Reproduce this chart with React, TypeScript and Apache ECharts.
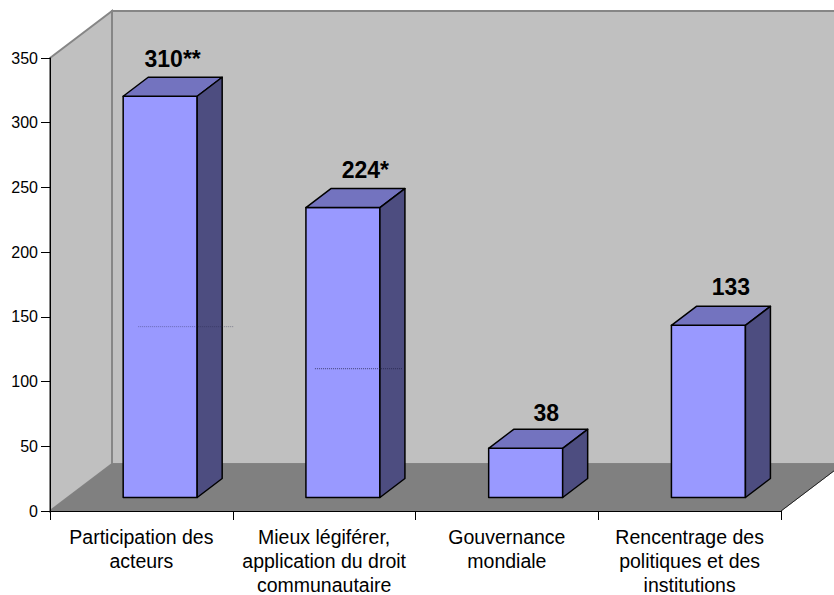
import React, { useEffect, useRef } from "react";
import * as echarts from "echarts";

// Chart values
const categories = [
  "Participation des\nacteurs",
  "Mieux légiférer,\napplication du droit\ncommunautaire",
  "Gouvernance\nmondiale",
  "Rencentrage des\npolitiques et des\ninstitutions",
];
const counts = [310, 224, 38, 133];
const countLabels = ["310**", "224*", "38", "133"];
const ruleValues = [132, 99.5];
const yTicks = { min: 0, max: 350, step: 50 };

// 3D box geometry, in pixels
const FONT = '"Liberation Sans", Arial, sans-serif';
const ROOM_DX = 62;
const ROOM_DY = 47;
const BOX_DX = 25;
const BOX_DY = 19;
const PLANE_DX = 18.8;
const PLANE_DY = 13.5;
const BOX_WIDTH_RATIO = 74 / 182.75;
// Small per-label offsets above each box
const labelNudgeX = [0, 10, 8, 10];
const labelNudgeY = [0, -1, 2, -1];

const renderRoom = (params: any) => {
  const { x, y, width, height } = params.coordSys;
  const left = x;
  const right = x + width;
  const top = y;
  const bottom = y + height;
  const wall = { fill: "#c0c0c0", stroke: "#868686", lineWidth: 2 };
  return {
    type: "group",
    children: [
      {
        type: "polygon",
        shape: {
          points: [
            [left + ROOM_DX, top - ROOM_DY],
            [right + ROOM_DX, top - ROOM_DY],
            [right + ROOM_DX, bottom - ROOM_DY],
            [left + ROOM_DX, bottom - ROOM_DY],
          ],
        },
        style: wall,
      },
      {
        type: "polygon",
        shape: {
          points: [
            [left, top],
            [left + ROOM_DX, top - ROOM_DY],
            [left + ROOM_DX, bottom - ROOM_DY],
            [left, bottom],
          ],
        },
        style: wall,
      },
      {
        type: "polygon",
        shape: {
          points: [
            [left, bottom],
            [right, bottom],
            [right + ROOM_DX, bottom - ROOM_DY],
            [left + ROOM_DX, bottom - ROOM_DY],
          ],
        },
        style: { fill: "#808080", stroke: "#808080", lineWidth: 1 },
      },
      {
        type: "line",
        shape: { x1: right, y1: bottom, x2: right + ROOM_DX, y2: bottom - ROOM_DY },
        style: { stroke: "#222", lineWidth: 1 },
      },
    ],
  };
};

const renderBox = (params: any, api: any) => {
  const idx = api.value(0);
  const val = api.value(1);
  const boxW = api.size([1, 0])[0] * BOX_WIDTH_RATIO;
  const [cx, y0] = api.coord([idx, 0]);
  const yV = api.coord([idx, val])[1];
  const l = cx + PLANE_DX - boxW / 2;
  const r = l + boxW;
  const b = y0 - PLANE_DY;
  const t = yV - PLANE_DY;
  const edge = { stroke: "#000", lineWidth: 1.5, lineJoin: "round" };
  return {
    type: "group",
    children: [
      {
        type: "polygon",
        shape: { points: [[l, b], [r, b], [r, t], [l, t]] },
        style: { fill: "#9999ff", ...edge },
      },
      {
        type: "polygon",
        shape: {
          points: [[l, t], [r, t], [r + BOX_DX, t - BOX_DY], [l + BOX_DX, t - BOX_DY]],
        },
        style: { fill: "#7373bf", ...edge },
      },
      {
        type: "polygon",
        shape: {
          points: [[r, b], [r + BOX_DX, b - BOX_DY], [r + BOX_DX, t - BOX_DY], [r, t]],
        },
        style: { fill: "#4d4d80", ...edge },
      },
      {
        type: "text",
        style: {
          text: countLabels[params.dataIndex],
          x: (l + r) / 2 + BOX_DX / 2 + labelNudgeX[params.dataIndex],
          y: t - BOX_DY - 18 + labelNudgeY[params.dataIndex],
          align: "center",
          verticalAlign: "middle",
          font: `bold 23px ${FONT}`,
          fill: "#000",
        },
      },
    ],
  };
};

// Thin dotted rules crossing the first two boxes
const ruleSpans = [
  [15, 110, 0.4],
  [9, 97, 0.75],
];
const renderRule = (params: any, api: any) => {
  const idx = api.value(0);
  const boxW = api.size([1, 0])[0] * BOX_WIDTH_RATIO;
  const [cx, y] = api.coord([idx, api.value(1)]);
  const l = cx + PLANE_DX - boxW / 2;
  const [from, to, alpha] = ruleSpans[params.dataIndex];
  return {
    type: "line",
    shape: { x1: l + from, y1: y - PLANE_DY, x2: l + to, y2: y - PLANE_DY },
    style: { stroke: "#222244", lineWidth: 1, lineDash: [1, 1], opacity: alpha },
  };
};

export default function App() {
  const ref = useRef<HTMLDivElement>(null);
  useEffect(() => {
    const chart = echarts.init(ref.current!, null, { renderer: "svg" });
    chart.setOption({
      animation: false,
      backgroundColor: "#fff",
      textStyle: { fontFamily: FONT },
      grid: {
        left: 50,
        right: 53,
        top: 58,
        bottom: 84,
        containLabel: false,
        outerBoundsMode: "none",
      },
      xAxis: {
        type: "category",
        data: categories,
        boundaryGap: true,
        z: 5,
        axisLine: { show: true, lineStyle: { color: "#000", width: 1 } },
        axisTick: { show: true, length: 9, lineStyle: { color: "#000" } },
        axisLabel: {
          interval: 0,
          margin: 14,
          color: "#000",
          fontSize: 19.5,
          lineHeight: 24,
          fontFamily: FONT,
        },
      },
      yAxis: {
        type: "value",
        min: yTicks.min,
        max: yTicks.max,
        interval: yTicks.step,
        z: 5,
        splitLine: { show: false },
        axisLine: { show: true, lineStyle: { color: "#000", width: 1 } },
        axisTick: { show: true, length: 9, lineStyle: { color: "#000" } },
        axisLabel: { margin: 12, color: "#000", fontSize: 16, fontFamily: FONT },
      },
      series: [
        { type: "custom", z: 1, silent: true, renderItem: renderRoom, data: [[0, 0]] },
        {
          type: "custom",
          z: 2,
          silent: true,
          renderItem: renderBox,
          encode: { x: 0, y: 1 },
          data: counts.map((v, i) => [i, v]),
        },
        {
          type: "custom",
          z: 3,
          silent: true,
          renderItem: renderRule,
          encode: { x: 0, y: 1 },
          data: ruleValues.map((v, i) => [i, v]),
        },
      ],
    });
    return () => chart.dispose();
  }, []);
  return (
    <div
      ref={ref}
      style={{ position: "absolute", left: 0, top: 0, width: 834, height: 595 }}
    />
  );
}
